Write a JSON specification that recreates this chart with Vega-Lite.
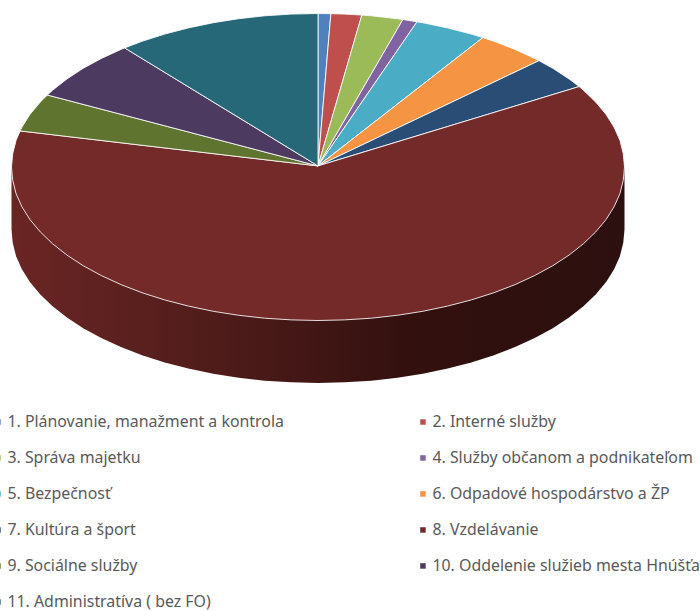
{"$schema":"https://vega.github.io/schema/vega-lite/v6.json","width":700,"height":611,"autosize":{"type":"none"},"padding":0,"background":"white","config":{"view":{"stroke":null}},
"layer":[
{"data":{"values":[
{"i":0,"x":-1,"y":0},{"i":1,"x":-1,"y":-0.407},{"i":2,"x":-0.996,"y":-0.494},{"i":3,"x":-0.985,"y":-0.581},{"i":4,"x":-0.966,"y":-0.666},{"i":5,"x":-0.94,"y":-0.749},{"i":6,"x":-0.906,"y":-0.83},{"i":7,"x":-0.866,"y":-0.907},{"i":8,"x":-0.819,"y":-0.981},{"i":9,"x":-0.766,"y":-1.05},{"i":10,"x":-0.707,"y":-1.114},{"i":11,"x":-0.643,"y":-1.173},{"i":12,"x":-0.574,"y":-1.226},{"i":13,"x":-0.5,"y":-1.273},{"i":14,"x":-0.423,"y":-1.313},{"i":15,"x":-0.342,"y":-1.347},{"i":16,"x":-0.259,"y":-1.373},{"i":17,"x":-0.174,"y":-1.392},{"i":18,"x":-0.087,"y":-1.403},{"i":19,"x":0,"y":-1.407},{"i":20,"x":0.087,"y":-1.403},{"i":21,"x":0.174,"y":-1.392},{"i":22,"x":0.259,"y":-1.373},{"i":23,"x":0.342,"y":-1.347},{"i":24,"x":0.423,"y":-1.313},{"i":25,"x":0.5,"y":-1.273},{"i":26,"x":0.574,"y":-1.226},{"i":27,"x":0.643,"y":-1.173},{"i":28,"x":0.707,"y":-1.114},{"i":29,"x":0.766,"y":-1.05},{"i":30,"x":0.819,"y":-0.981},{"i":31,"x":0.866,"y":-0.907},{"i":32,"x":0.906,"y":-0.83},{"i":33,"x":0.94,"y":-0.749},{"i":34,"x":0.966,"y":-0.666},{"i":35,"x":0.985,"y":-0.581},{"i":36,"x":0.996,"y":-0.494},{"i":37,"x":1,"y":-0.407},{"i":38,"x":1,"y":0},{"i":39,"x":-1,"y":0}
]},
"mark":{"type":"line","strokeWidth":0,"fill":{"gradient":"linear","x1":0,"y1":0,"x2":1,"y2":0,"stops":[{"offset":0,"color":"#6a2524"},{"offset":0.25,"color":"#561f1d"},{"offset":0.5,"color":"#401614"},{"offset":0.65,"color":"#32100e"},{"offset":1,"color":"#2c100f"}]}},
"encoding":{"x":{"field":"x","type":"quantitative","axis":null,"scale":{"domain":[-1.0375,1.2463],"nice":false,"zero":false}},"y":{"field":"y","type":"quantitative","axis":null,"scale":{"domain":[-2.8925,1.088],"nice":false,"zero":false}},"order":{"field":"i"}}},
{"data":{"values":[
{"s":"1. Plánovanie, manažment a kontrola","i":0,"x":0,"y":0.007},{"s":"1. Plánovanie, manažment a kontrola","i":1,"x":0,"y":1},{"s":"1. Plánovanie, manažment a kontrola","i":2,"x":0.042,"y":0.999},{"s":"1. Plánovanie, manažment a kontrola","i":3,"x":0,"y":0.007},
{"s":"2. Interné služby","i":0,"x":0,"y":0.007},{"s":"2. Interné služby","i":1,"x":0.042,"y":0.999},{"s":"2. Interné služby","i":2,"x":0.087,"y":0.996},{"s":"2. Interné služby","i":3,"x":0.143,"y":0.99},{"s":"2. Interné služby","i":4,"x":0,"y":0.007},
{"s":"3. Správa majetku","i":0,"x":0,"y":0.007},{"s":"3. Správa majetku","i":1,"x":0.143,"y":0.99},{"s":"3. Správa majetku","i":2,"x":0.174,"y":0.985},{"s":"3. Správa majetku","i":3,"x":0.259,"y":0.966},{"s":"3. Správa majetku","i":4,"x":0.277,"y":0.961},{"s":"3. Správa majetku","i":5,"x":0,"y":0.007},
{"s":"4. Služby občanom a podnikateľom","i":0,"x":0,"y":0.007},{"s":"4. Služby občanom a podnikateľom","i":1,"x":0.277,"y":0.961},{"s":"4. Služby občanom a podnikateľom","i":2,"x":0.323,"y":0.946},{"s":"4. Služby občanom a podnikateľom","i":3,"x":0,"y":0.007},
{"s":"5. Bezpečnosť","i":0,"x":0,"y":0.007},{"s":"5. Bezpečnosť","i":1,"x":0.323,"y":0.946},{"s":"5. Bezpečnosť","i":2,"x":0.342,"y":0.94},{"s":"5. Bezpečnosť","i":3,"x":0.423,"y":0.906},{"s":"5. Bezpečnosť","i":4,"x":0.5,"y":0.866},{"s":"5. Bezpečnosť","i":5,"x":0.538,"y":0.843},{"s":"5. Bezpečnosť","i":6,"x":0,"y":0.007},
{"s":"6. Odpadové hospodárstvo a ŽP","i":0,"x":0,"y":0.007},{"s":"6. Odpadové hospodárstvo a ŽP","i":1,"x":0.538,"y":0.843},{"s":"6. Odpadové hospodárstvo a ŽP","i":2,"x":0.574,"y":0.819},{"s":"6. Odpadové hospodárstvo a ŽP","i":3,"x":0.643,"y":0.766},{"s":"6. Odpadové hospodárstvo a ŽP","i":4,"x":0.707,"y":0.707},{"s":"6. Odpadové hospodárstvo a ŽP","i":5,"x":0.721,"y":0.693},{"s":"6. Odpadové hospodárstvo a ŽP","i":6,"x":0,"y":0.007},
{"s":"7. Kultúra a šport","i":0,"x":0,"y":0.007},{"s":"7. Kultúra a šport","i":1,"x":0.721,"y":0.693},{"s":"7. Kultúra a šport","i":2,"x":0.766,"y":0.643},{"s":"7. Kultúra a šport","i":3,"x":0.819,"y":0.574},{"s":"7. Kultúra a šport","i":4,"x":0.852,"y":0.524},{"s":"7. Kultúra a šport","i":5,"x":0,"y":0.007},
{"s":"8. Vzdelávanie","i":0,"x":0,"y":0.007},{"s":"8. Vzdelávanie","i":1,"x":0.852,"y":0.524},{"s":"8. Vzdelávanie","i":2,"x":0.866,"y":0.5},{"s":"8. Vzdelávanie","i":3,"x":0.906,"y":0.423},{"s":"8. Vzdelávanie","i":4,"x":0.94,"y":0.342},{"s":"8. Vzdelávanie","i":5,"x":0.966,"y":0.259},{"s":"8. Vzdelávanie","i":6,"x":0.985,"y":0.174},{"s":"8. Vzdelávanie","i":7,"x":0.996,"y":0.087},{"s":"8. Vzdelávanie","i":8,"x":1,"y":0},{"s":"8. Vzdelávanie","i":9,"x":0.996,"y":-0.087},{"s":"8. Vzdelávanie","i":10,"x":0.985,"y":-0.174},{"s":"8. Vzdelávanie","i":11,"x":0.966,"y":-0.259},{"s":"8. Vzdelávanie","i":12,"x":0.94,"y":-0.342},{"s":"8. Vzdelávanie","i":13,"x":0.906,"y":-0.423},{"s":"8. Vzdelávanie","i":14,"x":0.866,"y":-0.5},{"s":"8. Vzdelávanie","i":15,"x":0.819,"y":-0.574},{"s":"8. Vzdelávanie","i":16,"x":0.766,"y":-0.643},{"s":"8. Vzdelávanie","i":17,"x":0.707,"y":-0.707},{"s":"8. Vzdelávanie","i":18,"x":0.643,"y":-0.766},{"s":"8. Vzdelávanie","i":19,"x":0.574,"y":-0.819},{"s":"8. Vzdelávanie","i":20,"x":0.5,"y":-0.866},{"s":"8. Vzdelávanie","i":21,"x":0.423,"y":-0.906},{"s":"8. Vzdelávanie","i":22,"x":0.342,"y":-0.94},{"s":"8. Vzdelávanie","i":23,"x":0.259,"y":-0.966},{"s":"8. Vzdelávanie","i":24,"x":0.174,"y":-0.985},{"s":"8. Vzdelávanie","i":25,"x":0.087,"y":-0.996},{"s":"8. Vzdelávanie","i":26,"x":0,"y":-1},{"s":"8. Vzdelávanie","i":27,"x":-0.087,"y":-0.996},{"s":"8. Vzdelávanie","i":28,"x":-0.174,"y":-0.985},{"s":"8. Vzdelávanie","i":29,"x":-0.259,"y":-0.966},{"s":"8. Vzdelávanie","i":30,"x":-0.342,"y":-0.94},{"s":"8. Vzdelávanie","i":31,"x":-0.423,"y":-0.906},{"s":"8. Vzdelávanie","i":32,"x":-0.5,"y":-0.866},{"s":"8. Vzdelávanie","i":33,"x":-0.574,"y":-0.819},{"s":"8. Vzdelávanie","i":34,"x":-0.643,"y":-0.766},{"s":"8. Vzdelávanie","i":35,"x":-0.707,"y":-0.707},{"s":"8. Vzdelávanie","i":36,"x":-0.766,"y":-0.643},{"s":"8. Vzdelávanie","i":37,"x":-0.819,"y":-0.574},{"s":"8. Vzdelávanie","i":38,"x":-0.866,"y":-0.5},{"s":"8. Vzdelávanie","i":39,"x":-0.906,"y":-0.423},{"s":"8. Vzdelávanie","i":40,"x":-0.94,"y":-0.342},{"s":"8. Vzdelávanie","i":41,"x":-0.966,"y":-0.259},{"s":"8. Vzdelávanie","i":42,"x":-0.985,"y":-0.174},{"s":"8. Vzdelávanie","i":43,"x":-0.996,"y":-0.087},{"s":"8. Vzdelávanie","i":44,"x":-1,"y":0},{"s":"8. Vzdelávanie","i":45,"x":-0.996,"y":0.087},{"s":"8. Vzdelávanie","i":46,"x":-0.985,"y":0.174},{"s":"8. Vzdelávanie","i":47,"x":-0.972,"y":0.235},{"s":"8. Vzdelávanie","i":48,"x":0,"y":0.007},
{"s":"9. Sociálne služby","i":0,"x":0,"y":0.007},{"s":"9. Sociálne služby","i":1,"x":-0.972,"y":0.235},{"s":"9. Sociálne služby","i":2,"x":-0.966,"y":0.259},{"s":"9. Sociálne služby","i":3,"x":-0.94,"y":0.342},{"s":"9. Sociálne služby","i":4,"x":-0.906,"y":0.423},{"s":"9. Sociálne služby","i":5,"x":-0.883,"y":0.469},{"s":"9. Sociálne služby","i":6,"x":0,"y":0.007},
{"s":"10. Oddelenie služieb mesta Hnúšťa","i":0,"x":0,"y":0.007},{"s":"10. Oddelenie služieb mesta Hnúšťa","i":1,"x":-0.883,"y":0.469},{"s":"10. Oddelenie služieb mesta Hnúšťa","i":2,"x":-0.866,"y":0.5},{"s":"10. Oddelenie služieb mesta Hnúšťa","i":3,"x":-0.819,"y":0.574},{"s":"10. Oddelenie služieb mesta Hnúšťa","i":4,"x":-0.766,"y":0.643},{"s":"10. Oddelenie služieb mesta Hnúšťa","i":5,"x":-0.707,"y":0.707},{"s":"10. Oddelenie služieb mesta Hnúšťa","i":6,"x":-0.643,"y":0.766},{"s":"10. Oddelenie služieb mesta Hnúšťa","i":7,"x":-0.631,"y":0.776},{"s":"10. Oddelenie služieb mesta Hnúšťa","i":8,"x":0,"y":0.007},
{"s":"11. Administratíva ( bez FO)","i":0,"x":0,"y":0.007},{"s":"11. Administratíva ( bez FO)","i":1,"x":-0.631,"y":0.776},{"s":"11. Administratíva ( bez FO)","i":2,"x":-0.574,"y":0.819},{"s":"11. Administratíva ( bez FO)","i":3,"x":-0.5,"y":0.866},{"s":"11. Administratíva ( bez FO)","i":4,"x":-0.423,"y":0.906},{"s":"11. Administratíva ( bez FO)","i":5,"x":-0.342,"y":0.94},{"s":"11. Administratíva ( bez FO)","i":6,"x":-0.259,"y":0.966},{"s":"11. Administratíva ( bez FO)","i":7,"x":-0.174,"y":0.985},{"s":"11. Administratíva ( bez FO)","i":8,"x":-0.087,"y":0.996},{"s":"11. Administratíva ( bez FO)","i":9,"x":0,"y":1},{"s":"11. Administratíva ( bez FO)","i":10,"x":0,"y":0.007}
]},
"mark":{"type":"line","stroke":"#ffffff","strokeWidth":1,"strokeJoin":"round","strokeOpacity":0.85},
"encoding":{"x":{"field":"x","type":"quantitative","axis":null,"scale":{"domain":[-1.0375,1.2463],"nice":false,"zero":false}},"y":{"field":"y","type":"quantitative","axis":null,"scale":{"domain":[-2.8925,1.088],"nice":false,"zero":false}},"order":{"field":"i"},
"fill":{"field":"s","type":"nominal","scale":{"domain":["1. Plánovanie, manažment a kontrola","2. Interné služby","3. Správa majetku","4. Služby občanom a podnikateľom","5. Bezpečnosť","6. Odpadové hospodárstvo a ŽP","7. Kultúra a šport","8. Vzdelávanie","9. Sociálne služby","10. Oddelenie služieb mesta Hnúšťa","11. Administratíva ( bez FO)"],"range":["#4f81bd","#be4f4c","#9bbb59","#8063a1","#4aacc5","#f59544","#2a4d76","#742a29","#5f742f","#4c3a60","#266778"]},
"legend":{"title":null,"orient":"none","direction":"horizontal","legendX":-10,"legendY":414,"columns":2,"symbolType":"square","symbolSize":30,"symbolStrokeWidth":0,"labelFont":"Noto Sans","labelFontSize":15.9,"labelColor":"#595959","labelLimit":400,"labelOffset":1.5,"rowPadding":19,"columnPadding":131,"padding":0}}}}
]}
